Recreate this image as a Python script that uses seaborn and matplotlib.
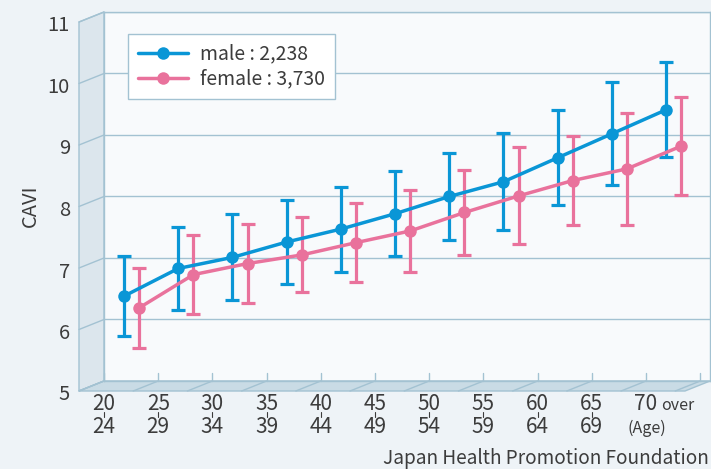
import pandas as pd
import matplotlib.pyplot as plt
import seaborn as sns
from matplotlib.patches import Polygon
from matplotlib.lines import Line2D

# Age groups (top / bottom row of the tick labels)
age_from = ['20', '25', '30', '35', '40', '45', '50', '55', '60', '65', '70']
age_to = ['24', '29', '34', '39', '44', '49', '54', '59', '64', '69', '']

# CAVI mean and SD
male_mean = [6.38, 6.83, 7.01, 7.26, 7.47, 7.72, 8.00, 8.24, 8.63, 9.02, 9.41]
male_sd = [0.65, 0.67, 0.70, 0.69, 0.69, 0.69, 0.70, 0.79, 0.77, 0.84, 0.77]
female_mean = [6.19, 6.73, 6.91, 7.05, 7.25, 7.44, 7.74, 8.01, 8.26, 8.45, 8.82]
female_sd = [0.65, 0.64, 0.64, 0.61, 0.64, 0.66, 0.69, 0.79, 0.73, 0.91, 0.80]
n_male = '2,238'
n_female = '3,730'

blue = '#0a96d6'
pink = '#e9729c'
bg = '#eef3f7'
wall = '#f8fafc'
side = '#dce6ed'
floor = '#c9dbe5'
grid = '#a3c2d2'
txt = '#3c3c3c'

sns.set_theme(style='white')
plt.rcParams['font.family'] = ['Noto Sans CJK JP', 'DejaVu Sans']

male_x = [k + 0.37 for k in range(len(age_from))]
female_x = [k + 0.65 for k in range(len(age_from))]
df = pd.concat([
    pd.DataFrame({'pos': male_x, 'cavi': male_mean, 'sex': 'male'}),
    pd.DataFrame({'pos': female_x, 'cavi': female_mean, 'sex': 'female'}),
])

fig = plt.figure(figsize=(7.11, 4.69), dpi=100, facecolor=bg)
ax = fig.add_axes([104 / 711, 88 / 469, 606 / 711, 369 / 469])
ax.set_facecolor(wall)
x0, x1 = 0, 11.18
ax.set_xlim(x0, x1)
ax.set_ylim(5, 11)
# depth offset of the pseudo 3D frame, in data units
dx, dy = -25 / 54.2, -10 / 61.5

# side wall and floor
ax.add_patch(Polygon([(x0, 5), (x0, 11), (x0 + dx, 11 + dy), (x0 + dx, 5 + dy)],
                     closed=True, fc=side, ec=grid, lw=1, clip_on=False, zorder=0))
ax.add_patch(Polygon([(x0, 5), (x1, 5), (x1 + dx, 5 + dy), (x0 + dx, 5 + dy)],
                     closed=True, fc=floor, ec=grid, lw=1, clip_on=False, zorder=0))
for v in range(5, 12):
    ax.plot([x0 + dx, x0], [v + dy, v], color=grid, lw=1, clip_on=False, zorder=1)
    ax.axhline(v, color=grid, lw=1, zorder=1)
    ax.annotate(str(v), xy=(x0 + dx, v + dy), xytext=(-9, -4), textcoords='offset pixels',
                ha='right', va='center', fontsize=14.5, color=txt, annotation_clip=False)
for k in range(12):
    ax.plot([k, k + dx], [5, 5 + dy], color=grid, lw=1, clip_on=False, zorder=1)
    ax.plot([k, k], [5, 5 + 8 / 61.5], color=grid, lw=1, clip_on=False, zorder=1)

for k, (a, b) in enumerate(zip(age_from, age_to)):
    ax.annotate(a, xy=(k, 5 + dy), xytext=(0, -19), textcoords='offset pixels',
                ha='center', va='baseline', fontsize=15, color=txt, annotation_clip=False)
    if b:
        ax.annotate(b, xy=(k, 5 + dy), xytext=(0, -42), textcoords='offset pixels',
                    ha='center', va='baseline', fontsize=15, color=txt, annotation_clip=False)
        ax.plot([k, k], [5 + dy - 21 / 61.5, 5 + dy - 26 / 61.5], color=txt, lw=0.8,
                clip_on=False)
ax.annotate('over', xy=(10, 5 + dy), xytext=(15, -19), textcoords='offset pixels',
            ha='left', va='baseline', fontsize=11.5, color=txt, annotation_clip=False)
ax.annotate('(Age)', xy=(10, 5 + dy), xytext=(1, -42), textcoords='offset pixels',
            ha='center', va='baseline', fontsize=11.5, color=txt, annotation_clip=False)

ax.errorbar(male_x, male_mean, yerr=male_sd, fmt='none', ecolor=blue,
            elinewidth=2.3, capsize=4.9, capthick=2.3, zorder=3)
ax.errorbar(female_x, female_mean, yerr=female_sd, fmt='none', ecolor=pink,
            elinewidth=2.3, capsize=4.9, capthick=2.3, zorder=3)
sns.lineplot(data=df, x='pos', y='cavi', hue='sex', palette=[blue, pink], marker='o',
             markersize=9, markeredgewidth=0, linewidth=2.5, legend=False, ax=ax, zorder=4)

ax.set_xticks([])
ax.set_yticks([])
ax.set_xlabel('')
ax.set_ylabel('')
for s in ax.spines.values():
    s.set_color(grid)
    s.set_linewidth(1)

handles = [Line2D([], [], color=blue, marker='o', lw=2.5, ms=9, mew=0),
           Line2D([], [], color=pink, marker='o', lw=2.5, ms=9, mew=0)]
leg = ax.legend(handles, ['male : ' + n_male, 'female : ' + n_female],
                loc='upper left', bbox_to_anchor=(24 / 606, 347 / 369), borderaxespad=0,
                frameon=True, fancybox=False, edgecolor=grid, facecolor='white',
                framealpha=1, fontsize=14, handlelength=2.6, handletextpad=0.6,
                borderpad=0.5, labelspacing=0.2)
leg.get_frame().set_linewidth(1)
for t in leg.get_texts():
    t.set_color(txt)

fig.text(30 / 711, 1 - 206 / 469, 'CAVI', rotation=90, ha='center', va='center',
         fontsize=14.5, color=txt)
fig.text(709 / 711, 1 - 458 / 469, 'Japan Health Promotion Foundation', ha='right',
         va='center', fontsize=13.7, color=txt)

fig.savefig('out.png', dpi=100, facecolor=bg)
